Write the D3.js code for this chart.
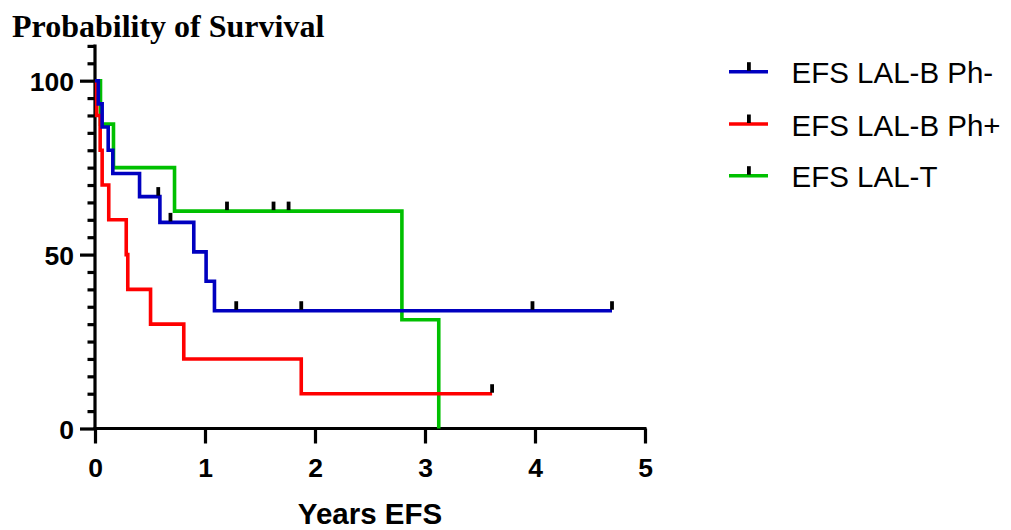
<!DOCTYPE html>
<html>
<head>
<meta charset="utf-8">
<script src="https://cdn.jsdelivr.net/npm/d3@7"></script>
<style>
  html, body { margin: 0; padding: 0; background: #fff; }
  svg { display: block; }
</style>
</head>
<body>
<svg id="chart" width="1011" height="530"></svg>
<script>
// Kaplan-Meier event-free survival, step points (years, % surviving)
const phNegTimes = [0, 0.03, 0.065, 0.12, 0.162, 0.405, 0.59, 0.898, 1.01, 1.086, 4.70];
const phNegSurv  = [100, 93.33, 86.67, 80.0, 73.33, 66.67, 59.26, 50.79, 42.33, 33.86, 33.86];
const phNegCensored = [0.575, 0.686, 1.284, 1.875, 3.977, 4.70];

const phPosTimes = [0, 0.015, 0.047, 0.065, 0.125, 0.284, 0.298, 0.505, 0.807, 1.875, 3.61];
const phPosSurv  = [100, 90, 80, 70, 60, 50, 40, 30, 20, 10, 10];
const phPosCensored = [3.61];

const lalTTimes = [0, 0.05, 0.168, 0.723, 2.79, 3.125];
const lalTSurv  = [100, 87.5, 75, 62.5, 31.25, 0];
const lalTCensored = [1.20, 1.623, 1.76];

const seriesNames  = ["EFS LAL-B Ph-", "EFS LAL-B Ph+", "EFS LAL-T"];
const seriesColors = ["#0000c0", "#ff0000", "#00c000"];

const xTicks = [0, 1, 2, 3, 4, 5];
const yTicks = d3.range(0, 111, 5);
const yLabelled = [0, 50, 100];

const svg = d3.select("#chart");
const sans = "'Liberation Sans', Arial, sans-serif";

const x = d3.scaleLinear().domain([0, 5]).range([95, 645]);
const y = d3.scaleLinear().domain([0, 110]).range([428.5, 45.9]);

// title
svg.append("text")
  .attr("x", 12).attr("y", 37)
  .attr("font-family", "'Liberation Serif', 'Times New Roman', serif")
  .attr("font-weight", "bold").attr("font-size", 32)
  .text("Probability of Survival");

// y axis
const yAxis = svg.append("g").attr("transform", `translate(${x(0)},0)`)
  .call(d3.axisLeft(y).tickValues(yTicks).tickSize(0).tickFormat(""));
yAxis.select(".domain").attr("stroke", "#000").attr("stroke-width", 3.2)
  .attr("d", `M0,${y(110) - 1.5}V${y(0) + 1.5}`);
yAxis.selectAll(".tick line")
  .attr("stroke", "#000").attr("stroke-width", 3.2)
  .attr("x2", d => yLabelled.includes(d) ? -15 : -7.5);
yAxis.selectAll(".tick").filter(d => yLabelled.includes(d))
  .append("text")
  .attr("x", -21).attr("dy", "0.36em")
  .attr("text-anchor", "end").attr("fill", "#000")
  .attr("font-family", sans).attr("font-weight", "bold").attr("font-size", 26.5)
  .text(d => d);

// x axis
const xAxis = svg.append("g").attr("transform", `translate(0,${y(0)})`)
  .call(d3.axisBottom(x).tickValues(xTicks).tickSize(15).tickFormat(""));
xAxis.select(".domain").attr("stroke", "#000").attr("stroke-width", 3.2)
  .attr("d", `M${x(0) - 1.5},0H${x(5) + 1.5}`);
xAxis.selectAll(".tick line").attr("stroke", "#000").attr("stroke-width", 3.2);
xAxis.selectAll(".tick").append("text")
  .attr("y", 48.5).attr("text-anchor", "middle").attr("fill", "#000")
  .attr("font-family", sans).attr("font-weight", "bold").attr("font-size", 26.5)
  .text(d => d);

svg.append("text")
  .attr("x", (x(0) + x(5)) / 2).attr("y", 524)
  .attr("text-anchor", "middle")
  .attr("font-family", sans).attr("font-weight", "bold").attr("font-size", 29.5)
  .text("Years EFS");

// survival curves
const series = [
  { name: seriesNames[0], color: seriesColors[0], times: phNegTimes, surv: phNegSurv, cens: phNegCensored },
  { name: seriesNames[1], color: seriesColors[1], times: phPosTimes, surv: phPosSurv, cens: phPosCensored },
  { name: seriesNames[2], color: seriesColors[2], times: lalTTimes, surv: lalTSurv, cens: lalTCensored }
];

function survivalAt(s, t) {
  let v = s.surv[0];
  for (let i = 0; i < s.times.length; i++) if (s.times[i] <= t) v = s.surv[i];
  return v;
}

const line = d3.line()
  .x(d => x(d[0])).y(d => y(d[1]))
  .curve(d3.curveStepAfter);

// draw order: LAL-T underneath, then Ph+, then Ph-
const drawOrder = [2, 1, 0];
const plot = svg.append("g");
drawOrder.forEach(i => {
  const s = series[i];
  plot.append("path")
    .datum(s.times.map((t, k) => [t, s.surv[k]]))
    .attr("fill", "none").attr("stroke", s.color)
    .attr("stroke-width", 3.6).attr("stroke-linejoin", "miter")
    .attr("d", line);
});

// censor ticks
drawOrder.forEach(i => {
  const s = series[i];
  plot.selectAll(null).data(s.cens).enter().append("rect")
    .attr("x", d => x(d) - 1.9).attr("width", 3.8)
    .attr("y", d => y(survivalAt(s, d)) - 9.5).attr("height", 8.5)
    .attr("fill", "#000");
});

// legend
const legend = svg.append("g");
const legendY = [71.7, 124, 175.7];
series.forEach((s, i) => {
  const g = legend.append("g").attr("transform", `translate(0,${legendY[i]})`);
  g.append("line").attr("x1", 729).attr("x2", 768)
    .attr("stroke", s.color).attr("stroke-width", 3.6);
  g.append("rect").attr("x", 747).attr("width", 3.8).attr("y", -9.5).attr("height", 8.5).attr("fill", "#000");
  g.append("text").attr("x", 791.5).attr("y", 11.5)
    .attr("font-family", sans).attr("font-size", 29.5).attr("fill", "#000")
    .text(s.name);
});
</script>
</body>
</html>
